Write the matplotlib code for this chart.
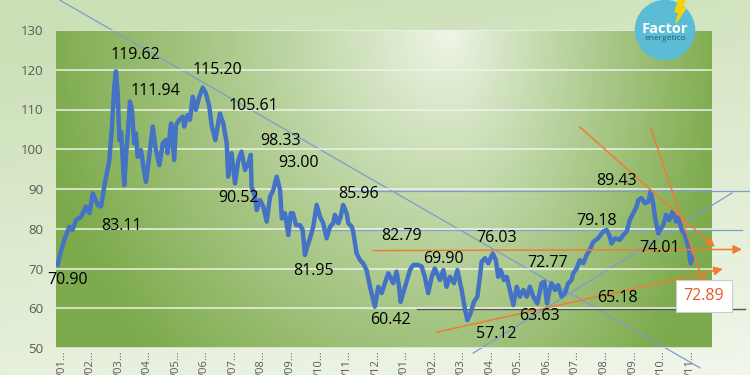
import numpy as np
import matplotlib.pyplot as plt
from matplotlib.patches import Circle, Polygon

# price series, x in months from the first tick
months = [-0.15, -0.04, 0.08, 0.26, 0.37, 0.49, 0.67, 0.84, 0.96, 1.08, 1.25, 1.37, 1.48, 1.66,
          1.75, 1.83, 1.89, 1.95, 2.01, 2.07, 2.13, 2.18, 2.24, 2.34, 2.38, 2.45, 2.53, 2.59,
          2.65, 2.77, 2.85, 2.94, 3.04, 3.18, 3.27, 3.41, 3.53, 3.64, 3.70, 3.82, 3.93, 3.99,
          4.11, 4.23, 4.28, 4.40, 4.48, 4.58, 4.69, 4.81, 4.93, 5.04, 5.16, 5.25, 5.37, 5.53,
          5.65, 5.77, 5.82, 5.94, 6.06, 6.18, 6.29, 6.41, 6.53, 6.61, 6.64, 6.76, 6.82, 6.94,
          7.05, 7.17, 7.29, 7.40, 7.52, 7.64, 7.70, 7.81, 7.93, 8.01, 8.09, 8.20, 8.34, 8.43,
          8.51, 8.59, 8.69, 8.80, 8.92, 9.04, 9.15, 9.27, 9.39, 9.50, 9.56, 9.68, 9.76, 9.85,
          9.97, 10.03, 10.15, 10.20, 10.32, 10.44, 10.55, 10.67, 10.79, 10.90, 10.96, 11.08,
          11.20, 11.31, 11.43, 11.49, 11.60, 11.72, 11.81, 11.86, 11.95, 12.07, 12.19, 12.30,
          12.48, 12.60, 12.71, 12.83, 12.95, 13.06, 13.24, 13.36, 13.47, 13.59, 13.73, 13.85,
          14.00, 14.12, 14.20, 14.31, 14.43, 14.55, 14.64, 14.70, 14.82, 14.93, 15.09, 15.20,
          15.28, 15.37, 15.48, 15.58, 15.69, 15.81, 15.93, 16.04, 16.16, 16.28, 16.39, 16.51,
          16.65, 16.80, 16.90, 16.99, 17.08, 17.15, 17.27, 17.38, 17.50, 17.62, 17.73, 17.85,
          17.91, 18.03, 18.14, 18.26, 18.38, 18.49, 18.61, 18.78, 18.96, 19.08, 19.19, 19.25,
          19.37, 19.54, 19.66, 19.78, 19.89, 20.01, 20.13, 20.19, 20.30, 20.42, 20.54, 20.62,
          20.71, 20.77, 20.89, 20.95, 21.06, 21.16, 21.27, 21.39, 21.51, 21.59, 21.71, 21.82,
          21.94, 22.02, 22.09]
prices = [71.0, 74.2, 77.2, 80.5, 79.7, 82.2, 83.0, 85.6, 83.9, 88.9, 86.0, 85.6, 90.6, 97.3,
          105.7, 115.7, 119.6, 114.1, 102.3, 104.4, 97.3, 91.0, 98.1, 107.4, 112.0, 109.9, 101.5, 104.0,
          98.1, 99.8, 95.6, 91.8, 97.3, 105.7, 100.6, 96.0, 101.5, 102.3, 99.0, 106.5, 97.3, 106.1,
          107.4, 108.2, 105.7, 108.6, 107.4, 113.2, 109.9, 113.2, 115.5, 114.1, 110.7, 105.7, 102.3, 109.0,
          106.5, 101.5, 93.1, 99.0, 91.4, 97.3, 99.4, 94.8, 96.5, 98.6, 90.6, 88.1, 84.7, 87.2,
          85.6, 81.8, 88.1, 89.7, 93.1, 89.7, 82.6, 83.9, 78.4, 83.9, 83.9, 80.9, 80.9, 79.7,
          73.4, 75.5, 77.6, 80.5, 86.0, 83.0, 81.4, 77.6, 80.5, 81.4, 83.5, 81.4, 83.0, 86.0,
          83.9, 81.4, 80.5, 79.3, 73.8, 72.1, 71.3, 69.6, 65.4, 62.1, 60.4, 65.4,
          63.8, 66.3, 68.8, 67.9, 66.3, 69.2, 65.4, 61.6, 63.8, 66.7, 69.6, 70.9,
          70.9, 70.5, 67.9, 63.8, 67.9, 70.0, 67.1, 69.6, 65.4, 67.9, 66.3, 69.6,
          64.6, 59.6, 57.0, 58.7, 61.6, 62.9, 67.9, 71.7, 72.6, 71.3, 73.8, 72.1,
          67.9, 69.6, 67.1, 67.9, 64.6, 60.8, 65.4, 62.9, 64.6, 62.9, 65.4, 62.9,
          61.2, 66.3, 66.7, 61.2, 64.6, 66.3, 64.6, 65.8, 62.9, 63.8, 66.3, 67.1,
          68.8, 70.0, 72.1, 71.3, 73.4, 74.7, 76.7, 77.6, 79.3, 79.7, 78.0, 76.3,
          77.6, 77.2, 78.4, 79.3, 82.2, 83.9, 85.6, 87.2, 87.7, 86.4, 86.8, 89.4,
          86.4, 83.0, 78.8, 79.7, 80.9, 83.5, 82.2, 84.3, 81.8, 83.0, 79.7, 78.4,
          75.5, 71.3, 72.9]

# the category labels are truncated by the chart, only their end is visible
tick_labels = ['/01…', '/02…', '/03…', '/04…', '/05…', '/06…', '/07…', '/08…', '/09…',
               '/10…', '/11…', '/12…', '/01…', '/02…', '/03…', '/04…', '/05…', '/06…',
               '/07…', '/08…', '/09…', '/10…', '/11…']

# value labels: text, month, price
label_text = ['70.90', '83.11', '119.62', '111.94', '115.20', '105.61', '98.33', '93.00',
              '90.52', '85.96', '81.95', '60.42', '82.79', '69.90', '76.03', '57.12',
              '72.77', '63.63', '79.18', '89.43', '74.01', '65.18']
label_x = [0.21, 2.10, 2.56, 3.29, 5.43, 6.69, 7.64, 8.27, 6.20, 10.40, 8.83, 11.49,
           11.91, 13.35, 15.24, 15.20, 17.02, 16.74, 18.74, 19.44, 20.95, 19.44]
label_y = [67.1, 80.7, 123.7, 114.7, 119.9, 110.9, 102.1, 96.5, 87.7, 88.7, 69.4, 57.0,
           78.2, 72.4, 77.7, 53.5, 71.4, 58.0, 82.0, 92.0, 75.2, 62.6]

# hand drawn trend lines: (x0, y0, x1, y1)
blue_lines = [(-0.07, 137.5, 22.35, 45.0),
              (10.09, 89.6, 24.10, 89.6),
              (7.99, 79.8, 23.82, 79.8),
              (14.40, 48.7, 23.47, 89.0)]
black_line = (12.43, 59.8, 23.92, 59.8)
orange_arrows = [(10.89, 74.5, 23.82, 74.8),
                 (18.14, 105.6, 22.87, 75.4),
                 (20.63, 105.3, 22.52, 65.4),
                 (13.13, 54.0, 23.15, 69.9)]
last_price = '72.89'

fig = plt.figure(figsize=(7.5, 3.75), dpi=100)

# sheet background
bg = fig.add_axes([0, 0, 1, 1], zorder=-5)
gy, gx = np.mgrid[0:1:100j, 0:1:100j]
tb = np.clip(0.35 + 0.75 * (1 - gy) - 0.25 * gx, 0, 1)[..., None]
c_top = np.array([0.96, 0.975, 0.94])
c_bot = np.array([0.80, 0.88, 0.72])
bg.imshow(c_top * (1 - tb) + c_bot * tb, extent=(0, 1, 0, 1), aspect='auto', origin='upper')
bg.axis('off')

ax = fig.add_axes([56 / 750, 27 / 375, 656 / 750, 318 / 375])
ax.set_xlim(-0.21, 22.77)
ax.set_ylim(50, 130)

# plot area gradient (light at top centre, green at the sides)
ny, nx = np.mgrid[1:0:200j, 0:1:300j]
cx = 0.6
dx = np.where(nx < cx, (nx - cx) / 0.62, (nx - cx) / 0.42)
dy = (ny - 1.0) / 1.5
t = np.clip(np.sqrt(dx ** 2 + dy ** 2), 0, 1)[..., None] ** 0.9
c_light = np.array([0.94, 0.965, 0.91])
c_green = np.array([0.49, 0.67, 0.30])
ax.imshow(c_light * (1 - t) + c_green * t, extent=(-0.21, 22.77, 50, 130),
          aspect='auto', origin='upper', zorder=0)

ax.yaxis.grid(True, color='#eef3e8', lw=1.2, alpha=0.9)
ax.set_axisbelow(False)
for s in ax.spines.values():
    s.set_visible(False)

ax.set_yticks(range(50, 131, 10))
ax.tick_params(axis='y', length=0, pad=9, labelsize=9.5, labelcolor='#595959')
ax.set_xticks(range(len(tick_labels)))
ax.set_xticklabels(tick_labels, rotation=90, va='top', ha='center')
ax.tick_params(axis='x', length=0, pad=1.5, labelsize=8, labelcolor='#595959')
for lab in ax.get_yticklabels() + ax.get_xticklabels():
    lab.set_family('Open Sans')

for x0, y0, x1, y1 in blue_lines:
    ax.plot([x0, x1], [y0, y1], color='#7d9ccf', lw=0.9, clip_on=False, zorder=2)
ax.plot(black_line[0::2], black_line[1::2], color='#555555', lw=1.0, clip_on=False, zorder=2)

ax.plot(months, prices, color='#4472c4', lw=3.2, solid_joinstyle='round', zorder=3)

for x0, y0, x1, y1 in orange_arrows:
    ax.annotate('', xy=(x1, y1), xytext=(x0, y0), annotation_clip=False,
                arrowprops=dict(arrowstyle='-|>', color='#ed7d31', lw=1.1,
                                mutation_scale=13, shrinkA=0, shrinkB=0), zorder=4)

for txt, x, y in zip(label_text, label_x, label_y):
    ax.text(x, y, txt, ha='center', va='center', fontsize=11.5, family='Open Sans',
            color='black', zorder=5)

ax.text(22.49, 63.1, last_price, ha='center', va='center', fontsize=11.5, family='Open Sans',
        color='#e8582a', zorder=6,
        bbox=dict(boxstyle='square,pad=0.5', facecolor='white', edgecolor='#cccccc', lw=0.8))

# logo
logo = fig.add_axes([635 / 750, (375 - 60) / 375, 60 / 750, 60 / 375], zorder=10)
logo.set_xlim(0, 60)
logo.set_ylim(60, 0)
logo.axis('off')
logo.add_patch(Circle((30, 30), 29.5, color='#5bbcd6', clip_on=False))
logo.add_patch(Polygon([(44, -2), (51, -2), (47, 8), (51, 8), (41, 23), (44, 12), (40, 12)],
                       color='#f2d30c', clip_on=False))
logo.text(30, 29, 'Factor', ha='center', va='center', color='white', fontsize=10.5,
          fontweight='bold', family='Open Sans')
logo.text(30, 39, 'energético', ha='center', va='center', color='#2b5d7a', fontsize=6,
          family='Open Sans')

fig.savefig('out.png', dpi=100)
